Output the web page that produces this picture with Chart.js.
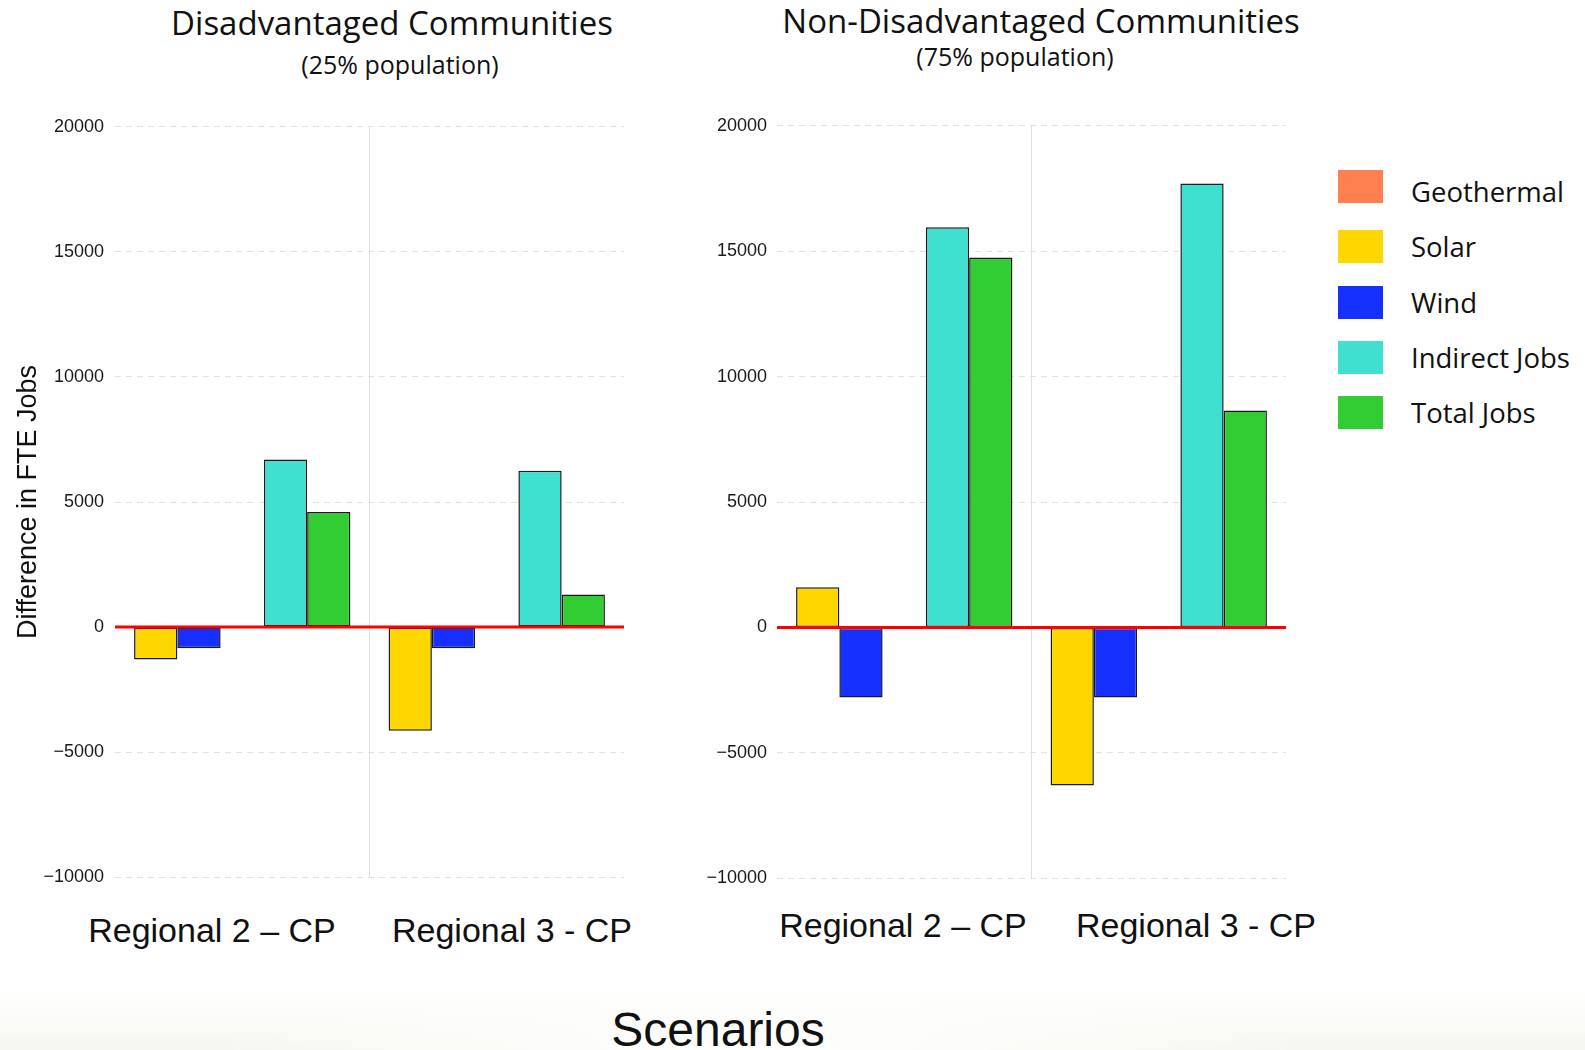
<!DOCTYPE html>
<html>
<head>
<meta charset="utf-8">
<script src="https://cdn.jsdelivr.net/npm/chart.js@4.4.1/dist/chart.umd.min.js"></script>
<style>
  body { margin: 0; width: 1585px; height: 1050px; position: relative; overflow: hidden; background: #fff; font-family: "Liberation Sans", Arial, sans-serif; }
  .lbl { position: absolute; transform: translate(-50%, -50%); white-space: nowrap; color: #111; }
  .ttl { font-family: "Open Sans", sans-serif; }
  .box { position: absolute; }
  .sw { position: absolute; width: 45px; height: 33px; }
  .lt { position: absolute; font-family: "Open Sans", sans-serif; font-size: 27.5px; color: #111; transform: translateY(-50%); white-space: nowrap; }
  #floor { position: absolute; left: 0; top: 990px; width: 1585px; height: 60px;
    background:
      radial-gradient(ellipse 560px 70px at 760px 60px, rgba(255,255,255,0.95), rgba(255,255,255,0) 100%),
      linear-gradient(to bottom, rgba(242,242,232,0) 0%, rgba(238,238,226,0.5) 100%); }
</style>
</head>
<body>
<div id="floor"></div>

<div class="lbl ttl" style="left:392px;top:22px;font-size:33px">Disadvantaged Communities</div>
<div class="lbl ttl" style="left:400px;top:64px;font-size:25px">(25% population)</div>
<div class="lbl ttl" style="left:1041px;top:20px;font-size:33px">Non-Disadvantaged Communities</div>
<div class="lbl ttl" style="left:1015px;top:56px;font-size:25px">(75% population)</div>

<div class="box" style="left:0;top:105px;width:640px;height:794px"><canvas id="chartDac"></canvas></div>
<div class="box" style="left:660px;top:105px;width:640px;height:794px"><canvas id="chartNon"></canvas></div>

<div id="catLabels"></div>
<div id="legend"></div>

<div class="lbl" style="left:718px;top:1029px;font-size:48px">Scenarios</div>

<script>
// categories and series
const categories = ['Regional 2 – CP', 'Regional 3 - CP'];
const seriesNames = ['Geothermal', 'Solar', 'Wind', 'Indirect Jobs', 'Total Jobs'];
const seriesColors = ['#ff7f50', '#ffd700', '#1530ff', '#40e0d0', '#32cd32'];

// disadvantaged communities (25% population)
const dacGeothermal = [0, 0];
const dacSolar = [-1300, -4150];
const dacWind = [-850, -850];
const dacIndirect = [6700, 6250];
const dacTotal = [4600, 1300];

// non-disadvantaged communities (75% population)
const nonGeothermal = [0, 0];
const nonSolar = [1600, -6300];
const nonWind = [-2800, -2800];
const nonIndirect = [15950, 17700];
const nonTotal = [14750, 8650];

const yMin = -10000, yMax = 20000, yStep = 5000;

// red line at zero, drawn on top of the bars
const zeroLine = {
  id: 'zeroLine',
  afterDatasetsDraw(chart) {
    const ctx = chart.ctx, a = chart.chartArea;
    const y = chart.scales.y.getPixelForValue(0);
    ctx.save();
    ctx.strokeStyle = '#ff0000';
    ctx.lineWidth = 3;
    ctx.beginPath();
    ctx.moveTo(a.left, y);
    ctx.lineTo(a.right, y);
    ctx.stroke();
    ctx.restore();
  }
};

function makeDatasets(geo, solar, wind, indirect, total) {
  // slot order in the picture: Solar, Wind, (Geothermal, zero), Indirect, Total
  const rows = [
    [1, solar], [2, wind], [0, geo], [3, indirect], [4, total]
  ];
  return rows.map(([i, vals]) => ({
    label: seriesNames[i],
    data: vals,
    backgroundColor: seriesColors[i],
    borderColor: '#1a1a1a',
    borderWidth: i === 0 ? 0 : 1.5,
    borderSkipped: false,
    categoryPercentage: 0.85,
    barPercentage: 1.0
  }));
}

function makeConfig(datasets, axisWidth, tickPad, padRight, showTitle) {
  return {
    type: 'bar',
    data: { labels: categories, datasets: datasets },
    plugins: [zeroLine],
    options: {
      responsive: true,
      maintainAspectRatio: false,
      animation: false,
      layout: { padding: { top: 10, right: padRight, bottom: 5, left: 0 } },
      plugins: { legend: { display: false }, tooltip: { enabled: false } },
      scales: {
        x: {
          ticks: { display: false },
          grid: {
            offset: true,
            drawTicks: false,
            lineWidth: 1,
            color: c => c.index === 1 ? '#dedede' : 'rgba(0,0,0,0)'
          },
          border: { display: false },
          afterFit: s => { s.height = 0; }
        },
        y: {
          min: yMin,
          max: yMax,
          ticks: {
            stepSize: yStep,
            padding: tickPad,
            color: '#1a1a1a',
            font: { family: 'Liberation Sans', size: 18 },
            callback: v => (v < 0 ? '\u2212' + Math.abs(v) : String(v))
          },
          grid: {
            drawTicks: false,
            lineWidth: 1,
            color: c => c.tick && c.tick.value === 0 ? 'rgba(0,0,0,0)' : '#e2e2e2'
          },
          border: { display: false, dash: [6, 5] },
          title: {
            display: showTitle,
            text: 'Difference in FTE Jobs',
            color: '#111',
            font: { family: 'Liberation Sans', size: 27 },
            padding: { top: 12, bottom: 0 }
          },
          afterFit: s => { s.width = axisWidth; }
        }
      }
    }
  };
}

new Chart(document.getElementById('chartDac'),
  makeConfig(makeDatasets(dacGeothermal, dacSolar, dacWind, dacIndirect, dacTotal), 115, 11, 16, true));
new Chart(document.getElementById('chartNon'),
  makeConfig(makeDatasets(nonGeothermal, nonSolar, nonWind, nonIndirect, nonTotal), 117, 10, 14, false));

// category labels (placed as on the slide)
const catPos = [[212, 930], [512, 930], [903, 925], [1196, 925]];
const catHost = document.getElementById('catLabels');
catPos.forEach((p, i) => {
  const d = document.createElement('div');
  d.className = 'lbl';
  d.style.left = p[0] + 'px';
  d.style.top = p[1] + 'px';
  d.style.fontSize = '34px';
  d.textContent = categories[i % 2];
  catHost.appendChild(d);
});

// legend
const rowCenters = [186, 246, 302, 357, 412];
const textShift = [5, 0, 0, 0, 0];
const legHost = document.getElementById('legend');
seriesNames.forEach((name, i) => {
  const sw = document.createElement('div');
  sw.className = 'sw';
  sw.style.left = '1338px';
  sw.style.top = (rowCenters[i] - 16) + 'px';
  sw.style.background = seriesColors[i];
  legHost.appendChild(sw);
  const t = document.createElement('div');
  t.className = 'lt';
  t.style.left = '1411px';
  t.style.top = (rowCenters[i] + textShift[i]) + 'px';
  t.textContent = name;
  legHost.appendChild(t);
});
</script>
</body>
</html>
